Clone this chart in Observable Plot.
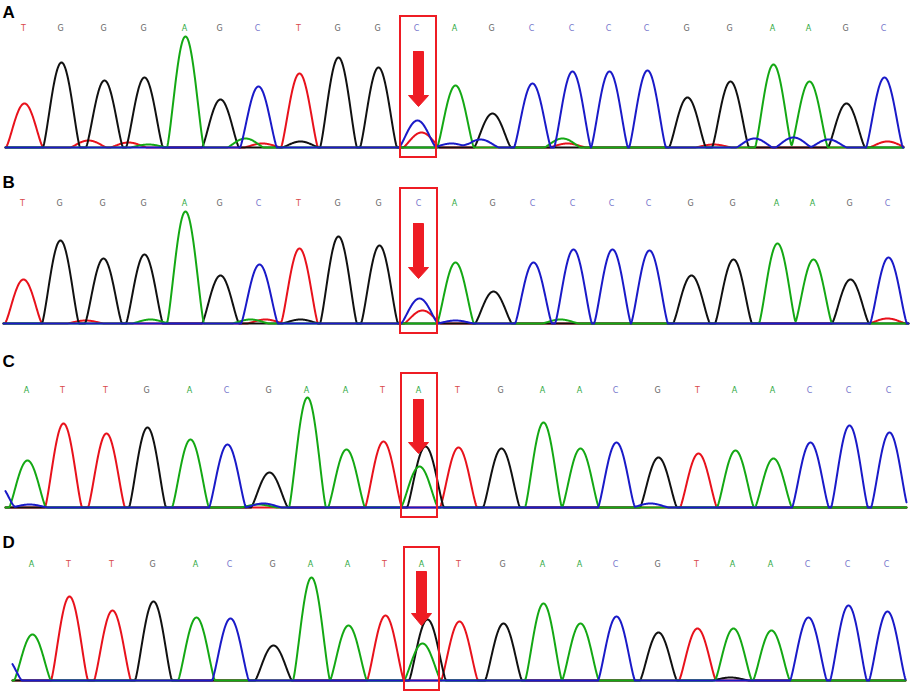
<!DOCTYPE html>
<html><head><meta charset="utf-8">
<script src="https://cdn.jsdelivr.net/npm/d3@7"></script>
<script src="https://cdn.jsdelivr.net/npm/@observablehq/plot@0.6"></script>
<style>
body{margin:0;background:#fff}
#wrap{position:relative;width:913px;height:691px;overflow:hidden}
#wrap svg{position:absolute;left:0;overflow:visible}
</style>
</head><body><div id="wrap"></div>
<script>
// ---- data ----
const panelLabels = ["A", "B", "C", "D"];
const callsAB = "TGGGAGCTGGCAGCCCCGGAAGC".split("");
const callsCD = "ATTGACGAATATGAACGTAACCC".split("");

const posA = [24, 61, 104, 144, 185, 220, 258, 299, 338, 378, 417, 455, 492, 532, 572, 609, 647, 687, 730, 773, 809, 846, 884];
const htA  = [44, 85, 67, 70, 111, 48, 61, 74, 90, 80, 27, 62, 34, 64, 76, 76, 77, 50, 66, 83, 66, 44, 70];
const extraA = [["T", 421, 15], ["T", 88, 7], ["T", 128, 5], ["A", 148, 3], ["A", 245, 9], ["T", 262, 4], ["G", 300, 6], ["C", 451, 4],
  ["C", 480, 8], ["A", 562, 9], ["T", 567, 4], ["T", 713, 3], ["C", 754, 9], ["C", 793, 10], ["C", 828, 8], ["T", 887, 6]];

const posB = [23, 60, 103, 144, 185, 220, 259, 299, 338, 379, 419, 455, 493, 533, 573, 612, 649, 691, 733, 777, 813, 850, 888];
const htB  = [44, 83, 65, 69, 112, 48, 59, 75, 87, 78, 25, 61, 32, 61, 74, 74, 73, 48, 64, 80, 64, 44, 66];
const extraB = [["T", 422, 13], ["T", 85, 3], ["A", 150, 4], ["A", 250, 4], ["T", 265, 4], ["G", 300, 4], ["A", 560, 4], ["T", 887, 5], ["C", 455, 3]];

const posC = [27, 63, 106, 147, 190, 227, 269, 307, 346, 383, 419, 458, 501, 543, 580, 616, 658, 698, 735, 773, 810, 849, 889];
const htC  = [47, 84, 74, 80, 68, 63, 35, 110, 58, 66, 41, 60, 59, 85, 59, 65, 50, 54, 57, 49, 65, 82, 75];
const extraC = [["G", 425, 61], ["C", -4, 25], ["C", 29, 3], ["C", 263, 4], ["A", 258, 3], ["C", 650, 4]];

const posD = [32, 69, 112, 153, 196, 230, 273, 311, 348, 385, 422, 459, 503, 543, 580, 616, 658, 697, 733, 771, 808, 848, 887];
const htD  = [46, 84, 70, 79, 63, 62, 35, 103, 55, 65, 37, 59, 57, 77, 57, 64, 48, 52, 52, 50, 63, 75, 69];
const extraD = [["G", 427, 61], ["C", 3, 25], ["G", 730, 3]];

// ---- layout / style ----
const traceColor = {T: "#e8121c", G: "#111111", A: "#14a814", C: "#1a1ac8"};
const letterColor = {T: "#d9484a", G: "#666666", A: "#2ea840", C: "#7777cc"};
const peakWidth = 37;   // base width of a peak, in px
const peakPower = 1.3;

const panels = [
  {label: panelLabels[0], calls: callsAB, pos: posA, ht: htA, extra: extraA, top: 0,   height: 170, base: 147, x0: 5,  x1: 903, letterY: 119, labelDy: 5,  box: [400, 436, 131], arrow: [418, 96, 52, 41]},
  {label: panelLabels[1], calls: callsAB, pos: posB, ht: htB, extra: extraB, top: 170, height: 172, base: 153, x0: 3,  x1: 908, letterY: 120, labelDy: 5,  box: [400, 437, 135], arrow: [418, 100, 56, 45]},
  {label: panelLabels[2], calls: callsCD, pos: posC, ht: htC, extra: extraC, top: 342, height: 178, base: 165, x0: 5,  x1: 906, letterY: 117, labelDy: 12, box: [401, 437, 134], arrow: [418, 108, 65, 54]},
  {label: panelLabels[3], calls: callsCD, pos: posD, ht: htD, extra: extraD, top: 520, height: 171, base: 160, x0: 12, x1: 905, letterY: 116, labelDy: 15, box: [404, 439, 133], arrow: [421, 109, 67, 55]}
];

function shape(d) {
  const u = Math.abs(d) / peakWidth;
  return u >= 0.5 ? 0 : Math.pow(Math.cos(Math.PI * u), peakPower);
}

function traces(p) {
  const peaks = p.calls.map((b, i) => ({base: b, x: p.pos[i], h: p.ht[i]}))
    .concat(p.extra.map(([b, x, h]) => ({base: b, x, h})));
  const rows = [];
  for (const base of ["T", "G", "A", "C"]) {
    const ps = peaks.filter(d => d.base === base);
    for (let x = p.x0; x <= p.x1; x += 0.5) {
      let y = 0;
      for (const d of ps) y += d.h * shape(x - d.x);
      rows.push({base, x, y});
    }
  }
  return rows;
}

const wrap = document.getElementById("wrap");
for (const p of panels) {
  const letters = p.calls.map((b, i) => ({b, x: p.pos[i] - 1}));
  const [bx1, bx2, btop] = p.box;
  const [cx, sTop, sHead, sTip] = p.arrow;
  const arrowPoly = [
    [cx - 5, sTop], [cx + 5, sTop], [cx + 5, sHead], [cx + 10, sHead],
    [cx, sTip], [cx - 10, sHead], [cx - 5, sHead], [cx - 5, sTop]
  ];
  const chart = Plot.plot({
    width: 913,
    height: p.height,
    margin: 0,
    x: {domain: [0, 913], axis: null},
    y: {domain: [0, 150], range: [p.base, p.base - 150], axis: null},
    color: {domain: ["T", "G", "A", "C"], range: ["T", "G", "A", "C"].map(k => traceColor[k])},
    marks: [
      Plot.text(letters, {x: "x", y: () => p.letterY, text: "b", fill: d => letterColor[d.b],
        fontSize: 8, fontFamily: "DejaVu Sans"}),
      Plot.line(traces(p), {x: "x", y: "y", z: "base", stroke: "base", strokeWidth: 2, curve: "linear"}),
      Plot.rect([{}], {x1: bx1, x2: bx2, y1: -10, y2: btop, fill: "none", stroke: "#ee1c24", strokeWidth: 2}),
      Plot.line(arrowPoly, {x: d => d[0], y: d => d[1], fill: "#ee1c24", stroke: "#ee1c24", strokeWidth: 1}),
      Plot.text([p.label], {frameAnchor: "top-left", dx: 2, dy: p.labelDy, text: d => d,
        fontSize: 17, fontWeight: "bold", fontFamily: "Liberation Sans, Arial, sans-serif", fill: "#000"})
    ]
  });
  chart.style.top = p.top + "px";
  wrap.appendChild(chart);
}
</script>
</body></html>
